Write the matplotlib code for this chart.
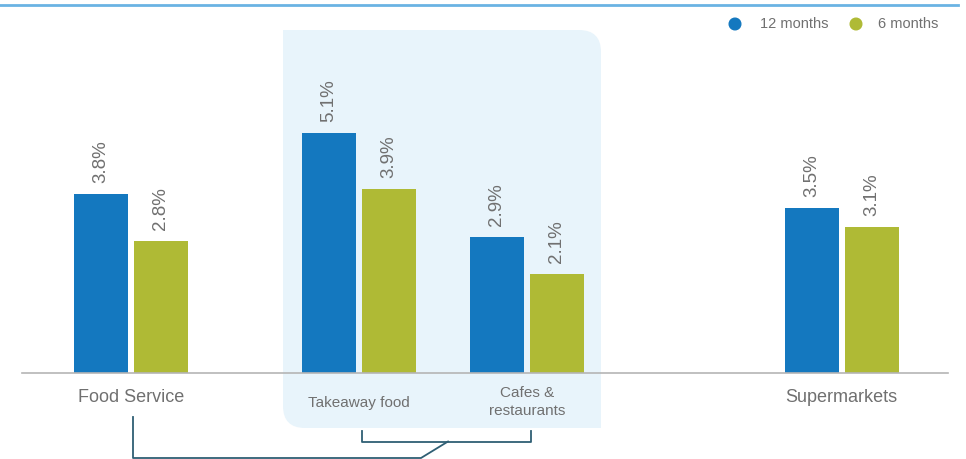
import matplotlib.pyplot as plt
from matplotlib.patches import PathPatch
from matplotlib.path import Path

categories = ["Food Service", "Takeaway food", "Cafes &\nrestaurants", "Supermarkets"]
months_12 = [3.8, 5.1, 2.9, 3.5]
months_6 = [2.8, 3.9, 2.1, 3.1]
series_names = ["12 months", "6 months"]

blue = "#1478bf"
green = "#afba35"
grey_txt = "#707070"

plt.rcParams['font.family'] = ['Liberation Sans', 'DejaVu Sans']

fig = plt.figure(figsize=(9.66, 4.59), dpi=100)

# overlay in pixel coords for decorations
deco = fig.add_axes([0, 0, 1, 1])
deco.set_xlim(0, 966)
deco.set_ylim(459, 0)
deco.axis("off")

# highlight box with rounded top-right / bottom-left corners
x0, x1, y0, y1, r = 283, 601, 30, 428, 22
verts = [(x0, y0), (x1 - r, y0), (x1, y0), (x1, y0 + r), (x1, y1), (x0 + r, y1),
         (x0, y1), (x0, y1 - r), (x0, y0)]
codes = [Path.MOVETO, Path.LINETO, Path.CURVE3, Path.CURVE3, Path.LINETO, Path.LINETO,
         Path.CURVE3, Path.CURVE3, Path.CLOSEPOLY]
deco.add_patch(PathPatch(Path(verts, codes), facecolor="#e8f4fb", edgecolor="none"))

deco.plot([0, 958], [4.5, 4.5], color="#6ab3e3", lw=2)

# brackets
bc = "#2f5f74"
deco.plot([133, 133, 421, 448], [417, 458, 458, 441.5], color=bc, lw=1.3)
deco.plot([361.5, 361.5, 531, 531], [431, 441.5, 441.5, 431], color=bc, lw=1.3)

# legend
deco.scatter([735, 856], [24, 24], s=70, color=[blue, green], zorder=3)
deco.text(760, 24, series_names[0], fontsize=10.5, color=grey_txt, va="center")
deco.text(878, 24, series_names[1], fontsize=10.5, color=grey_txt, va="center")

# bar chart axes, x in pixel units, y in percent
ax = fig.add_axes([0, 0, 1, 1])
ax.patch.set_alpha(0)
ax.set_xlim(0, 966)
px_per_pct = 47.06
ax.set_ylim(-(459 - 373) / px_per_pct, 373 / px_per_pct)
ax.axis("off")

centers = [131, 358.5, 527, 841.5]
w = 54
gap = 3
for i, c in enumerate(centers):
    xb = c - gap - w / 2
    xg = c + gap + w / 2
    ax.bar(xb, months_12[i], width=w, color=blue)
    ax.bar(xg, months_6[i], width=w, color=green)
    off = 11 / px_per_pct
    ax.text(xb, months_12[i] + off, f"{months_12[i]:.1f}%", rotation=90,
            ha="center", va="bottom", fontsize=13.5, color=grey_txt)
    ax.text(xg, months_6[i] + off, f"{months_6[i]:.1f}%", rotation=90,
            ha="center", va="bottom", fontsize=13.5, color=grey_txt)

ax.plot([22, 948], [0, 0], color="#b5b5b5", lw=1.2)

lab_y = [398, 403, 402, 398]
lab_fs = [13, 11, 11, 13]
for c, lab, ly, fs in zip(centers, categories, lab_y, lab_fs):
    deco.text(c, ly, lab, ha="center", va="center", fontsize=fs, color=grey_txt,
              linespacing=1.3)

fig.savefig("out.png", dpi=100)
